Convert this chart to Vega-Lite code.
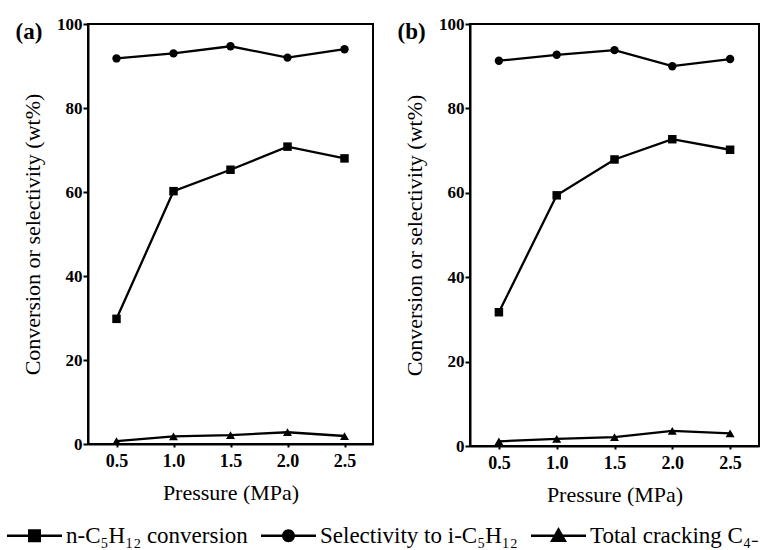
{
  "$schema": "https://vega.github.io/schema/vega-lite/v6.json",
  "background": "white",
  "padding": {"left": 7, "top": 14, "right": 0, "bottom": 0},
  "config": {
    "font": "Liberation Serif",
    "view": {"stroke": "black", "strokeWidth": 2},
    "title": {"font": "Liberation Serif", "fontSize": 23, "fontWeight": "bold", "color": "black"},
    "axis": {
      "labelFont": "Liberation Serif", "labelFontWeight": "bold", "labelColor": "black",
      "titleFont": "Liberation Serif", "titleFontSize": 22, "titleFontWeight": "normal", "titleColor": "black",
      "domainColor": "black", "domainWidth": 2, "tickColor": "black", "tickWidth": 2, "grid": false
    },
    "axisX": {"labelFontSize": 18, "tickSize": 3, "labelPadding": 5, "titlePadding": 12},
    "axisY": {"labelFontSize": 17, "tickSize": 5, "labelPadding": 1, "titlePadding": 12}
  },
  "data": {
    "values": [
      {"panel": "a", "pressure": 0.5, "series": "conv", "value": 29.8},
      {"panel": "a", "pressure": 1.0, "series": "conv", "value": 60.2},
      {"panel": "a", "pressure": 1.5, "series": "conv", "value": 65.3},
      {"panel": "a", "pressure": 2.0, "series": "conv", "value": 70.8},
      {"panel": "a", "pressure": 2.5, "series": "conv", "value": 68.0},
      {"panel": "a", "pressure": 0.5, "series": "sel", "value": 91.8},
      {"panel": "a", "pressure": 1.0, "series": "sel", "value": 93.0},
      {"panel": "a", "pressure": 1.5, "series": "sel", "value": 94.7},
      {"panel": "a", "pressure": 2.0, "series": "sel", "value": 92.0},
      {"panel": "a", "pressure": 2.5, "series": "sel", "value": 94.0},
      {"panel": "a", "pressure": 0.5, "series": "crack", "value": 0.7},
      {"panel": "a", "pressure": 1.0, "series": "crack", "value": 1.8},
      {"panel": "a", "pressure": 1.5, "series": "crack", "value": 2.1},
      {"panel": "a", "pressure": 2.0, "series": "crack", "value": 2.8},
      {"panel": "a", "pressure": 2.5, "series": "crack", "value": 1.9},
      {"panel": "b", "pressure": 0.5, "series": "conv", "value": 31.7},
      {"panel": "b", "pressure": 1.0, "series": "conv", "value": 59.4},
      {"panel": "b", "pressure": 1.5, "series": "conv", "value": 67.9},
      {"panel": "b", "pressure": 2.0, "series": "conv", "value": 72.7},
      {"panel": "b", "pressure": 2.5, "series": "conv", "value": 70.2},
      {"panel": "b", "pressure": 0.5, "series": "sel", "value": 91.3},
      {"panel": "b", "pressure": 1.0, "series": "sel", "value": 92.7},
      {"panel": "b", "pressure": 1.5, "series": "sel", "value": 93.8},
      {"panel": "b", "pressure": 2.0, "series": "sel", "value": 90.0},
      {"panel": "b", "pressure": 2.5, "series": "sel", "value": 91.7},
      {"panel": "b", "pressure": 0.5, "series": "crack", "value": 1.1},
      {"panel": "b", "pressure": 1.0, "series": "crack", "value": 1.7},
      {"panel": "b", "pressure": 1.5, "series": "crack", "value": 2.1},
      {"panel": "b", "pressure": 2.0, "series": "crack", "value": 3.6},
      {"panel": "b", "pressure": 2.5, "series": "crack", "value": 3.0}
    ]
  },
  "spacing": 22,
  "resolve": {"scale": {"shape": "shared"}, "legend": {"shape": "shared"}},
  "hconcat": [
    {
      "title": {"text": "(a)", "anchor": "start", "frame": "bounds", "dx": -6, "dy": 29, "baseline": "top", "offset": 0},
      "width": 285, "height": 420,
      "transform": [{"filter": "datum.panel === 'a'"}],
      "encoding": {
        "x": {"field": "pressure", "type": "quantitative", "title": "Pressure (MPa)",
              "scale": {"domain": [0.25, 2.75], "nice": false, "zero": false},
              "axis": {"values": [0.5, 1.0, 1.5, 2.0, 2.5], "format": ".1f"}},
        "y": {"field": "value", "type": "quantitative", "title": "Conversion or selectivity (wt%)",
              "scale": {"domain": [0, 100], "nice": false},
              "axis": {"values": [0, 20, 40, 60, 80, 100]}}
      },
      "layer": [
        {"mark": {"type": "line", "color": "black", "strokeWidth": 2.3}, "encoding": {"detail": {"field": "series"}}},
        {"transform": [{"filter": "datum.series === 'conv'"}], "mark": {"type": "point", "shape": "square", "filled": true, "color": "black", "opacity": 1, "size": 72}},
        {"transform": [{"filter": "datum.series === 'sel'"}], "mark": {"type": "point", "shape": "circle", "filled": true, "color": "black", "opacity": 1, "size": 70}},
        {"transform": [{"filter": "datum.series === 'crack'"}], "mark": {"type": "point", "shape": "triangle-up", "filled": true, "color": "black", "opacity": 1, "size": 80}},
        {"transform": [{"filter": "datum.pressure < 0"}],
         "mark": {"type": "point", "filled": true, "color": "black", "opacity": 1, "size": 3025, "strokeWidth": 0},
         "encoding": {"shape": {"field": "series", "type": "nominal",
            "scale": {"domain": ["conv", "sel", "crack"], "range": [
              "M-1,-0.045H1V0.045H-1Z M-0.236,-0.236H0.236V0.236H-0.236Z",
              "M-1,-0.045H1V0.045H-1Z M-0.236,0 A0.236 0.236 0 1 1 0.236,0 A0.236 0.236 0 1 1 -0.236,0 Z",
              "M-1,-0.045H1V0.045H-1Z M-0.31,0.23 L0,-0.32 L0.31,0.23 Z"]},
            "legend": {"orient": "none", "legendX": -81, "legendY": 484, "direction": "horizontal", "title": null,
               "labelFont": "Liberation Serif", "labelFontSize": 23, "labelColor": "black",
               "labelExpr": "datum.value === 'conv' ? 'n-C₅H₁₂ conversion' : datum.value === 'sel' ? 'Selectivity to i-C₅H₁₂' : 'Total cracking C₄₋'",
               "symbolSize": 3025, "symbolStrokeWidth": 0, "symbolFillColor": "black", "symbolOpacity": 1,
               "labelOffset": 4, "columnPadding": 13, "labelLimit": 400}}}}
      ]
    },
    {
      "title": {"text": "(b)", "anchor": "start", "frame": "bounds", "dx": -6, "dy": 29, "baseline": "top", "offset": 0},
      "width": 289, "height": 422,
      "transform": [{"filter": "datum.panel === 'b'"}],
      "encoding": {
        "x": {"field": "pressure", "type": "quantitative", "title": "Pressure (MPa)",
              "scale": {"domain": [0.25, 2.75], "nice": false, "zero": false},
              "axis": {"values": [0.5, 1.0, 1.5, 2.0, 2.5], "format": ".1f"}},
        "y": {"field": "value", "type": "quantitative", "title": "Conversion or selectivity (wt%)",
              "scale": {"domain": [0, 100], "nice": false},
              "axis": {"values": [0, 20, 40, 60, 80, 100]}}
      },
      "layer": [
        {"mark": {"type": "line", "color": "black", "strokeWidth": 2.3}, "encoding": {"detail": {"field": "series"}}},
        {"transform": [{"filter": "datum.series === 'conv'"}], "mark": {"type": "point", "shape": "square", "filled": true, "color": "black", "opacity": 1, "size": 72}},
        {"transform": [{"filter": "datum.series === 'sel'"}], "mark": {"type": "point", "shape": "circle", "filled": true, "color": "black", "opacity": 1, "size": 70}},
        {"transform": [{"filter": "datum.series === 'crack'"}], "mark": {"type": "point", "shape": "triangle-up", "filled": true, "color": "black", "opacity": 1, "size": 80}}
      ]
    }
  ]
}
